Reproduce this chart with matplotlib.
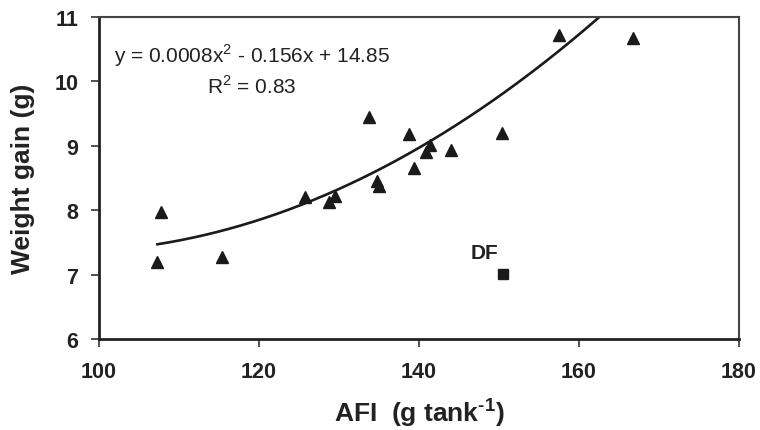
import matplotlib
matplotlib.use('Agg')
import matplotlib.pyplot as plt
import numpy as np

plt.rcParams['font.family'] = ['Liberation Sans', 'DejaVu Sans']
plt.rcParams['mathtext.fontset'] = 'custom'
plt.rcParams['mathtext.rm'] = 'Liberation Sans'
plt.rcParams['mathtext.bf'] = 'Liberation Sans:bold'

# AFI (g tank-1) and weight gain (g) for the diets
afi = [107.3, 107.8, 115.4, 125.8, 128.7, 129.5, 133.8, 134.8, 135.0,
       138.7, 139.4, 140.9, 141.4, 144.0, 150.4, 157.5, 166.7]
wg = [7.20, 7.98, 7.27, 8.21, 8.12, 8.22, 9.45, 8.46, 8.38,
      9.18, 8.66, 8.90, 9.01, 8.93, 9.20, 10.72, 10.68]

# DF diet, excluded from the fit
df_afi = [150.5]
df_wg = [7.01]

# quadratic trendline as drawn in the figure (a, b, c)
trend_coef = [0.0008, -0.152, 14.57]

xticks = [100, 120, 140, 160, 180]
yticks = [6, 7, 8, 9, 10, 11]

fig = plt.figure(figsize=(7.6, 4.31), dpi=100)
ax = fig.add_axes([0.1303, 0.2111, 0.8421, 0.7471])

xs = np.linspace(min(afi), max(afi), 200)
ax.plot(xs, np.polyval(trend_coef, xs), color='#1a1a1a', linewidth=1.9, zorder=2)

ax.plot(afi, wg, '^', color='#1a1a1a', ms=8, zorder=3)
ax.plot(df_afi, df_wg, 's', color='#1a1a1a', ms=7.5, zorder=3)
ax.text(146.4, 7.26, 'DF', fontsize=15, fontweight='bold', color='#222222',
        ha='left', va='baseline')

ax.text(119.1, 10.31, 'y = 0.0008x$^{2}$ - 0.156x + 14.85', fontsize=15,
        color='#222222', ha='center', va='baseline')
ax.text(119.1, 9.83, 'R$^{2}$ = 0.83', fontsize=15,
        color='#222222', ha='center', va='baseline')

ax.set_xlim(100, 180)
ax.set_ylim(6, 11)
ax.set_xticks(xticks)
ax.set_yticks(yticks)

for side in ['left', 'bottom']:
    ax.spines[side].set_linewidth(2)
    ax.spines[side].set_color('#222222')
for side in ['top', 'right']:
    ax.spines[side].set_linewidth(1.5)
    ax.spines[side].set_color('#444444')

ax.tick_params(axis='both', direction='out', length=6, width=1.2, color='#333333',
               labelsize=15.5, labelcolor='#222222')
ax.tick_params(axis='x', pad=10)
ax.tick_params(axis='y', pad=9)
for lab in ax.get_xticklabels() + ax.get_yticklabels():
    lab.set_fontweight('bold')

ax.set_xlabel('AFI  (g tank$^{\\mathbf{\u20101}}$)', fontsize=19, fontweight='bold',
              color='#222222', labelpad=9)
ax.set_ylabel('Weight gain (g)', fontsize=19, fontweight='bold', color='#222222',
              labelpad=14)

fig.savefig('out.png', dpi=100)
